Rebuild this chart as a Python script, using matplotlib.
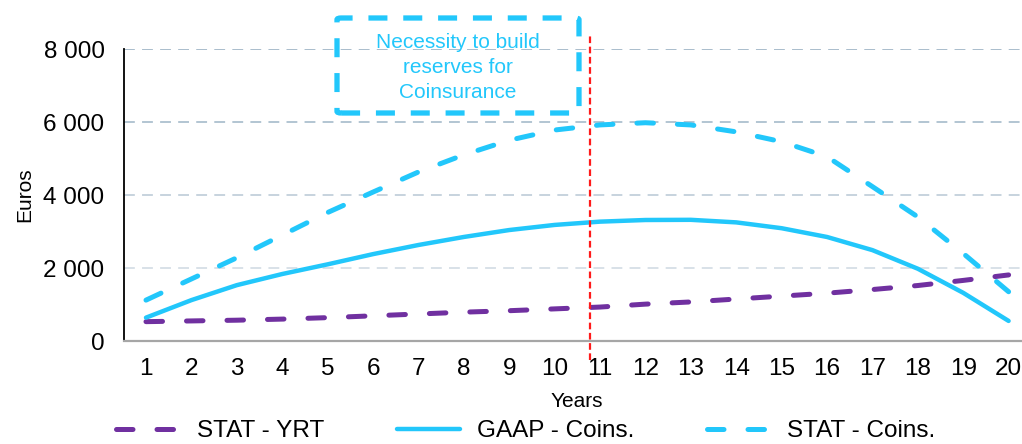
import matplotlib
matplotlib.use("Agg")
import matplotlib.pyplot as plt
from matplotlib.patches import FancyBboxPatch

plt.rcParams['font.family'] = ['Liberation Sans', 'DejaVu Sans']

years = list(range(1, 21))
stat_yrt = [530, 550, 570, 600, 640, 690, 740, 790, 830, 880, 930, 1010, 1070, 1150, 1230, 1310, 1410, 1520, 1660, 1810]
gaap_coins = [640, 1120, 1530, 1835, 2100, 2380, 2630, 2850, 3040, 3180, 3270, 3315, 3320, 3250, 3090, 2850, 2490, 1980, 1320, 550]
stat_coins = [1120, 1700, 2280, 2900, 3520, 4080, 4630, 5100, 5500, 5780, 5920, 5980, 5920, 5730, 5460, 5050, 4230, 3400, 2400, 1350]
series_names = ['STAT - YRT', 'GAAP - Coins.', 'STAT - Coins.']
ytick_vals = [0, 2000, 4000, 6000, 8000]
ytick_labels = ['0', '2 000', '4 000', '6 000', '8 000']
annotation = 'Necessity to build\nreserves for\nCoinsurance'
cutoff_year = 10.78

purple = '#7030a0'
cyan = '#22c7fb'

W, H = 1022, 444
fig = plt.figure(figsize=(W / 100, H / 100), dpi=100)
ax_left = 124 / W
ax_bottom = 1 - 341 / H
ax_top = 1 - 49 / H
ax = fig.add_axes([ax_left, ax_bottom, 1 - ax_left, ax_top - ax_bottom])

px_per_year = 45.4
x0 = 1 - (146 - 124) / px_per_year
ax.set_xlim(x0, x0 + 898 / px_per_year)
ax.set_ylim(0, 8000)

# gridlines
grid_colors = {2000: '#d5dee6', 4000: '#c3d0db', 6000: '#adc0cf', 8000: '#a2b7c8'}
for v, c in grid_colors.items():
    ax.axhline(v, color=c, lw=1.3, linestyle=(0, (6, 4)), zorder=0)

l1, = ax.plot(years, stat_yrt, color=purple, lw=3.6, linestyle=(0, (3.3, 4.8)),
              dash_capstyle='round', solid_capstyle='round', label=series_names[0], zorder=3)
l2, = ax.plot(years, gaap_coins, color=cyan, lw=3.2, solid_capstyle='round',
              label=series_names[1], zorder=3)
l3, = ax.plot(years, stat_coins, color=cyan, lw=3.6, linestyle=(0, (3.3, 4.8)),
              dash_capstyle='round', label=series_names[2], zorder=3)

# red cutoff line extending beyond axes
ax.plot([cutoff_year, cutoff_year], [8000 * (341 - 360) / 292, 8000 * (341 - 35) / 292],
        color='#ff1a1a', lw=1.6, linestyle=(0, (3, 1.6)), clip_on=False, zorder=4)

ax.set_xticks(years)
ax.set_xticklabels([str(y) for y in years])
ax.set_yticks(ytick_vals)
ax.set_yticklabels(ytick_labels)
ax.tick_params(axis='both', length=0, labelsize=17.5, colors='black')
ax.tick_params(axis='y', pad=14)
ax.tick_params(axis='x', pad=12)

for s in ['top', 'right']:
    ax.spines[s].set_visible(False)
ax.spines['left'].set_color('black')
ax.spines['left'].set_linewidth(1.3)
ax.spines['bottom'].set_color('#a6a6a6')
ax.spines['bottom'].set_linewidth(1.6)

ax.set_xlabel('Years', fontsize=15)
ax.xaxis.set_label_coords((577 - 124) / 898, (341 - 401) / 292)
ax.xaxis.label.set_va('center')
ax.set_ylabel('Euros', fontsize=15)
ax.yaxis.set_label_coords((25 - 124) / 898, 0.5)
ax.yaxis.label.set_va('center')

# annotation box (figure pixel coordinates)
bx0, bx1 = 337 / W, 579 / W
by0, by1 = 1 - 113 / H, 1 - 18 / H
box = FancyBboxPatch((bx0, by0), bx1 - bx0, by1 - by0,
                     boxstyle='round,pad=0,rounding_size=0.004',
                     transform=fig.transFigure, fill=False, edgecolor=cyan,
                     lw=3.8, linestyle=(0, (3.6, 3.0)), zorder=5)
fig.patches.append(box)
fig.text(458 / W, 1 - 67.5 / H, annotation, color=cyan, fontsize=15,
         ha='center', va='center', linespacing=1.38, multialignment='center')

leg = fig.legend(handles=[l1, l2, l3], loc='center', bbox_to_anchor=(526 / W, 1 - 431 / H),
                 ncol=3, frameon=False, fontsize=17.5, handlelength=2.6,
                 handletextpad=0.7, columnspacing=3.0, borderpad=0.1)

fig.savefig('out.png', dpi=100)
